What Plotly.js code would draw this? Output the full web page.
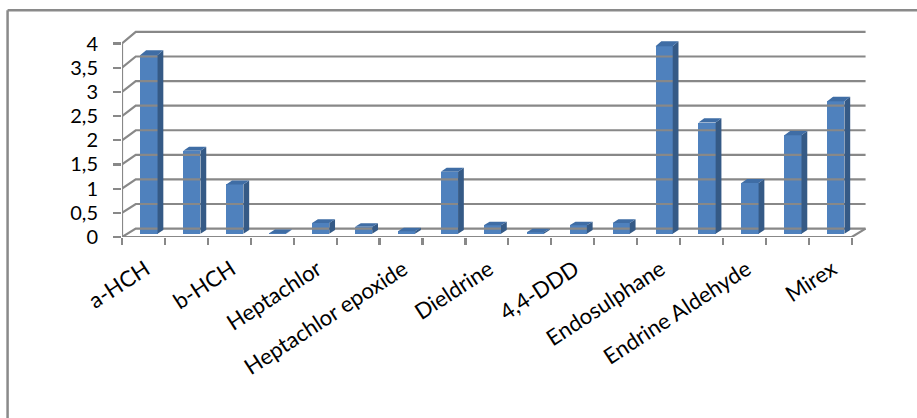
<!DOCTYPE html>
<html><head><meta charset="utf-8">
<script src="https://cdn.plot.ly/plotly-3.0.1.min.js"></script>
<style>html,body{margin:0;padding:0;background:#fff}#chart{width:917px;height:418px}</style>
</head><body><div id="chart"></div>
<script>
// ---- data ----
const values = [3.67, 1.70, 1.01, 0.01, 0.22, 0.14, 0.05, 1.27, 0.17, 0.03, 0.17, 0.22, 3.85, 2.28, 1.04, 2.02, 2.72];
const tickLabels = ["a-HCH", "b-HCH", "Heptachlor", "Heptachlor epoxide", "Dieldrine", "4,4-DDD", "Endosulphane", "Endrine Aldehyde", "Mirex"];
const yTicks = [0, 0.5, 1, 1.5, 2, 2.5, 3, 3.5, 4];

// ---- pseudo-3D geometry (style) ----
const N = values.length;
const DX = 0.32;                       // full depth shift in x units
function Y(v, d) { return v + d * (0.174 + 0.0165 * v); }
function X(x, d) { return x + d * DX; }
const DF = 0.4, DB = 0.82, W = 0.40;
const grid = '#888888';
const centers = values.map((v, i) => i + 1);

const traces = [];
// back wall + left wall gridlines
const gx = [], gy = [];
yTicks.forEach(v => {
  gx.push(X(0.5, 0), X(0.5, 1), X(N + 0.5, 1), null);
  gy.push(Y(v, 0), Y(v, 1), Y(v, 1), null);
});
// floor front + right edge
gx.push(0.5, N + 0.5, X(N + 0.5, 1), null);
gy.push(0, 0, Y(0, 1), null);
// front-left vertical axis line
gx.push(0.5, 0.5);
gy.push(0, Y(yTicks[yTicks.length - 1], 0));
traces.push({type: 'scatter', mode: 'lines', x: gx, y: gy, line: {color: grid, width: 2.2}, hoverinfo: 'skip', cliponaxis: false});

// bar front faces
traces.push({
  type: 'bar', x: centers.map(c => X(c, DF)), base: values.map(() => Y(0, DF)),
  y: values.map(v => Y(v, DF) - Y(0, DF)), width: W,
  marker: {color: '#4F81BD', line: {width: 0}}, hoverinfo: 'skip'
});
// side and top faces
const sx = [], sy = [], tx = [], ty = [];
values.forEach((v, i) => {
  const c = centers[i], r = c + W / 2, l = c - W / 2;
  sx.push(X(r, DF), X(r, DB), X(r, DB), X(r, DF), null);
  sy.push(Y(0, DF), Y(0, DB), Y(v, DB), Y(v, DF), null);
  tx.push(X(l, DF), X(r, DF), X(r, DB), X(l, DB), null);
  ty.push(Y(v, DF), Y(v, DF), Y(v, DB), Y(v, DB), null);
});
traces.push({type: 'scatter', mode: 'lines', x: sx, y: sy, fill: 'toself', fillcolor: '#355A86', line: {width: 0, color: '#355A86'}, hoverinfo: 'skip'});
traces.push({type: 'scatter', mode: 'lines', x: tx, y: ty, fill: 'toself', fillcolor: '#3F6DA5', line: {width: 0, color: '#3F6DA5'}, hoverinfo: 'skip'});

// ---- layout ----
const L = 121.5, T = 28.8, PW = 17.4 * 42.96, PH = 4.3 * 48.35;
const R = 917 - L - PW, B = 418 - T - PH;
const px2x = p => (p - L) / PW, py2y = p => 1 - (p - T) / PH;
const labelPos = tickLabels.map((t, k) => 2 * k + 1.05);
const bounds = [];
for (let i = 0; i <= N; i++) bounds.push(i + 0.5);
const clear = 'rgba(0,0,0,0)';

const layout = {
  width: 917, height: 418,
  margin: {l: L, r: R, t: T, b: B, pad: 0},
  paper_bgcolor: '#fff', plot_bgcolor: clear,
  showlegend: false, hovermode: false, separators: ', ',
  bargap: 0,
  xaxis: {
    range: [0.5, 17.9], tickmode: 'array', tickvals: labelPos, ticktext: tickLabels,
    ticks: 'outside', ticklen: 10, tickcolor: clear, tickangle: -33, showgrid: false, zeroline: false, showline: false,
    tickfont: {family: 'Lato, sans-serif', size: 22, color: '#000'}
  },
  xaxis2: {
    overlaying: 'x', anchor: 'y', side: 'bottom', range: [0.5, 17.9], tickmode: 'array', tickvals: bounds,
    ticks: 'outside', ticklen: 7, tickwidth: 2.2, tickcolor: grid, showticklabels: false,
    showgrid: false, zeroline: false, showline: false
  },
  yaxis: {
    range: [0, 4.3], tickmode: 'array', tickvals: yTicks, ticks: 'outside', ticklen: 8, tickwidth: 2.2,
    tickcolor: grid, showgrid: false, zeroline: false, showline: false, showticklabels: false
  },
  yaxis2: {
    overlaying: 'y', anchor: 'x', side: 'left', range: [0, 4.3], tickmode: 'array', tickvals: yTicks,
    ticks: 'outside', ticklen: 19, tickcolor: clear, showgrid: false, zeroline: false, showline: false,
    tickfont: {family: 'Lato, sans-serif', size: 20, color: '#000'}
  },
  shapes: [
    {type: 'line', xref: 'paper', yref: 'paper', x0: px2x(7), x1: px2x(7), y0: py2y(430), y1: py2y(10), line: {color: '#8A8A8A', width: 2.5}},
    {type: 'line', xref: 'paper', yref: 'paper', x0: px2x(7), x1: px2x(930), y0: py2y(10), y1: py2y(10), line: {color: '#8A8A8A', width: 2.5}}
  ]
};
// invisible traces that carry the boundary-tick axis and the label axis
traces.push({type: 'scatter', x: [0.5], y: [0], xaxis: 'x2', mode: 'markers', marker: {opacity: 0}, hoverinfo: 'skip'});
traces.push({type: 'scatter', x: [0.5], y: [0], yaxis: 'y2', mode: 'markers', marker: {opacity: 0}, hoverinfo: 'skip'});

Plotly.newPlot('chart', traces, layout, {displayModeBar: false, staticPlot: true});
</script>
</body></html>
